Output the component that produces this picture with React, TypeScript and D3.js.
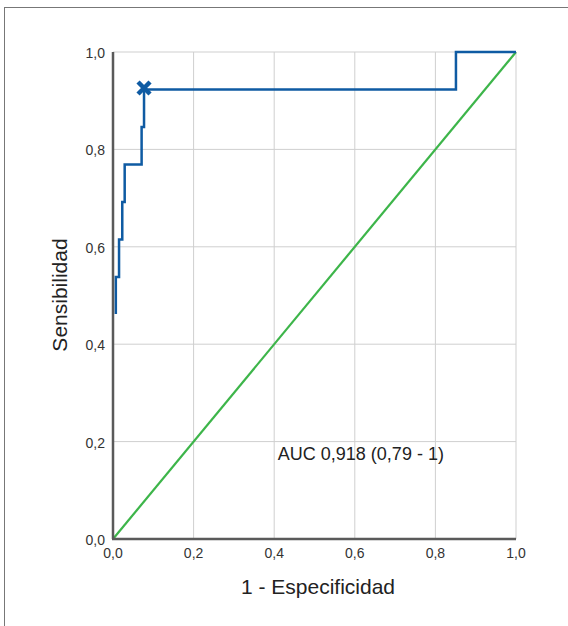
import React, { useEffect, useRef } from "react";
import * as d3 from "d3";

// ROC curve points (1 - especificidad, sensibilidad)
const fpr = [0.007, 0.007, 0.015, 0.015, 0.023, 0.023, 0.029, 0.029, 0.071, 0.071, 0.077, 0.077, 0.851, 0.851, 1.0];
const tpr = [0.462, 0.538, 0.538, 0.615, 0.615, 0.692, 0.692, 0.769, 0.769, 0.846, 0.846, 0.923, 0.923, 1.0, 1.0];
const cutoff = [0.077, 0.923];
const tickValues = [0, 0.2, 0.4, 0.6, 0.8, 1.0];
const aucLabel = "AUC 0,918 (0,79 - 1)";

const fmt = (v: number) => v.toFixed(1).replace(".", ",");

export default function App() {
  const ref = useRef<SVGSVGElement>(null);

  useEffect(() => {
    const svg = d3.select(ref.current);
    svg.selectAll("*").remove();

    const margin = { top: 52, left: 113 };
    const width = 403;
    const height = 487;

    const x = d3.scaleLinear().domain([0, 1]).range([0, width]);
    const y = d3.scaleLinear().domain([0, 1]).range([height, 0]);

    // outer frame
    svg
      .append("rect")
      .attr("x", 4.5)
      .attr("y", 7.5)
      .attr("width", 600)
      .attr("height", 700)
      .attr("fill", "none")
      .attr("stroke", "#777")
      .attr("stroke-width", 1);

    const g = svg.append("g").attr("transform", "translate(" + margin.left + "," + margin.top + ")");

    // grid
    g.selectAll(".vgrid")
      .data(tickValues.slice(1))
      .enter()
      .append("line")
      .attr("x1", (d) => x(d))
      .attr("x2", (d) => x(d))
      .attr("y1", 0)
      .attr("y2", height)
      .attr("stroke", "#cfcfcf")
      .attr("stroke-width", 1);
    g.selectAll(".hgrid")
      .data(tickValues.slice(1))
      .enter()
      .append("line")
      .attr("x1", 0)
      .attr("x2", width)
      .attr("y1", (d) => y(d))
      .attr("y2", (d) => y(d))
      .attr("stroke", "#cfcfcf")
      .attr("stroke-width", 1);

    // tick labels
    g.selectAll(".xt")
      .data(tickValues)
      .enter()
      .append("text")
      .attr("x", (d) => x(d))
      .attr("y", height + 19)
      .attr("text-anchor", "middle")
      .attr("font-size", 14)
      .attr("fill", "#333")
      .text((d) => fmt(d));
    g.selectAll(".yt")
      .data(tickValues)
      .enter()
      .append("text")
      .attr("x", -8)
      .attr("y", (d) => y(d) + 6)
      .attr("text-anchor", "end")
      .attr("font-size", 14)
      .attr("fill", "#333")
      .text((d) => fmt(d));

    // reference diagonal
    g.append("line")
      .attr("x1", x(0))
      .attr("y1", y(0))
      .attr("x2", x(1))
      .attr("y2", y(1))
      .attr("stroke", "#3db54a")
      .attr("stroke-width", 2.2);

    // ROC line
    const pts: [number, number][] = fpr.map((f, i) => [f, tpr[i]]);
    g.append("path")
      .datum(pts)
      .attr("fill", "none")
      .attr("stroke", "#0f5ba3")
      .attr("stroke-width", 2.5)
      .attr(
        "d",
        d3
          .line<[number, number]>()
          .x((d) => x(d[0]))
          .y((d) => y(d[1]))
      );

    // cutoff marker
    const cx = x(cutoff[0]);
    const cy = y(cutoff[1]) - 1.5;
    const s = 6;
    g.append("path")
      .attr("d", `M${cx - s},${cy - s}L${cx + s},${cy + s}M${cx - s},${cy + s}L${cx + s},${cy - s}`)
      .attr("stroke", "#0f5ba3")
      .attr("stroke-width", 4.5);

    // axes
    g.append("line")
      .attr("x1", 0)
      .attr("x2", 0)
      .attr("y1", 0)
      .attr("y2", height)
      .attr("stroke", "#5a5a5a")
      .attr("stroke-width", 2.5);
    g.append("line")
      .attr("x1", -1)
      .attr("x2", width)
      .attr("y1", height)
      .attr("y2", height)
      .attr("stroke", "#5a5a5a")
      .attr("stroke-width", 2.5);

    // AUC
    g.append("text")
      .attr("x", x(0.409))
      .attr("y", y(0.162))
      .attr("font-size", 18)
      .attr("fill", "#222")
      .text(aucLabel);

    // titles
    svg
      .append("text")
      .attr("x", 318)
      .attr("y", 594)
      .attr("text-anchor", "middle")
      .attr("font-size", 21)
      .attr("fill", "#222")
      .text("1 - Especificidad");
    svg
      .append("text")
      .attr("transform", "translate(67,295) rotate(-90)")
      .attr("text-anchor", "middle")
      .attr("font-size", 21)
      .attr("fill", "#222")
      .text("Sensibilidad");
  }, []);

  return (
    <svg
      ref={ref}
      width={568}
      height={626}
      style={{ position: "absolute", left: 0, top: 0, fontFamily: "'Liberation Sans', Arial, sans-serif" }}
    ></svg>
  );
}
